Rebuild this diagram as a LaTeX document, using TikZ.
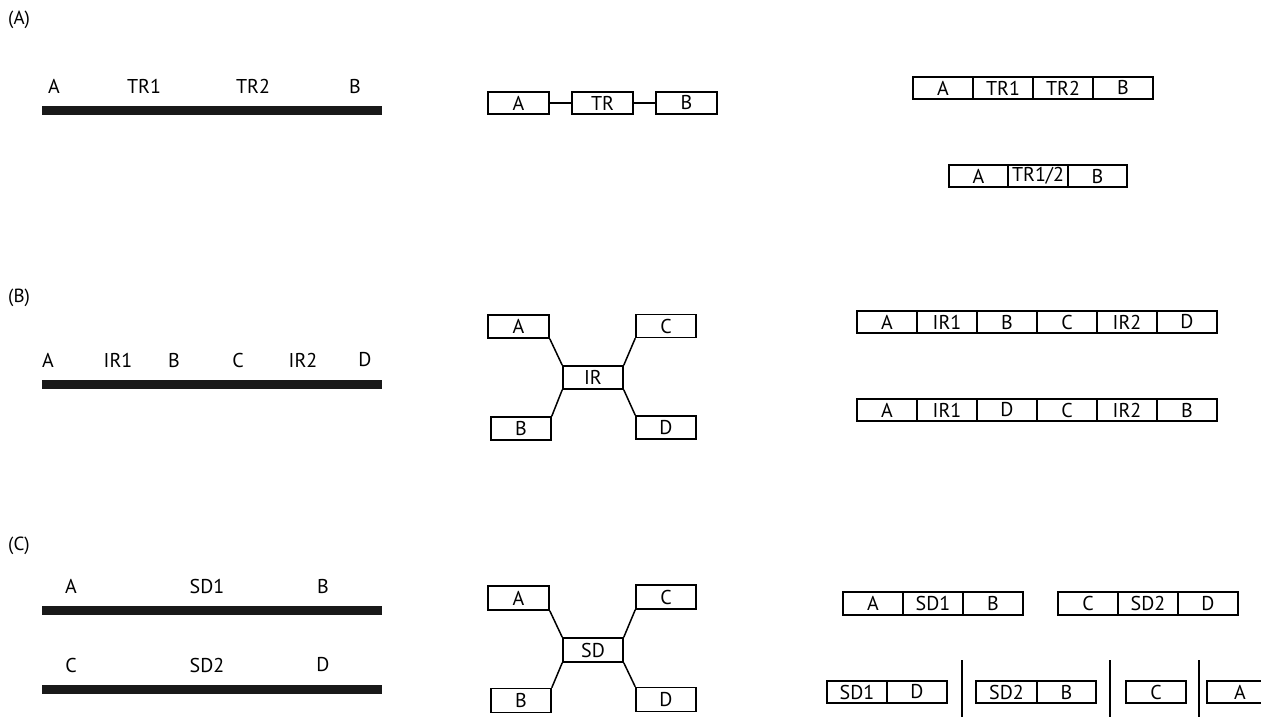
\documentclass[tikz,border=0pt]{standalone}
\usepackage{fontspec}
\setmainfont{PT Sans}
\begin{document}
\begin{tikzpicture}[x=1pt,y=-1pt,
  cell/.style={draw,line width=1.5pt,minimum width=60pt,minimum height=22pt,inner sep=0pt,font=\fontsize{20}{20}\selectfont},
  lab/.style={font=\fontsize{20}{20}\selectfont,inner sep=0pt},
  plab/.style={font=\fontsize{19}{19}\selectfont,inner sep=0pt,anchor=west},
  bar/.style={fill=black!90},
  conn/.style={line width=1.5pt},
  sep/.style={line width=1.9pt}]
\useasboundingbox (0,0) rectangle (1261,717);
% ---------------- (A)
\node[plab] (pA) at (8,20) {(A)};
\fill[bar] (42,106) rectangle (382,115);
\node[lab] (a1) at (54,86) {A};
\node[lab] (a2) at (144,86) {TR1};
\node[lab] (a3) at (253,86) {TR2};
\node[lab] (a4) at (355,86) {B};
\node[cell,minimum width=61pt] (mA) at (518.5,103) {A};
\node[cell,minimum width=61pt] (mTR) at (602.5,103) {TR};
\node[cell,minimum width=61pt] (mB) at (686.5,103) {B};
\draw[conn] (mA) -- (mTR);
\draw[conn] (mTR) -- (mB);
\node[cell] (r1) at (943,88) {A};
\node[cell] (r2) at (1003,88) {TR1};
\node[cell] (r3) at (1063,88) {TR2};
\node[cell] (r4) at (1123,88) {B};
\node[cell,minimum width=59pt] (s1) at (978.5,176) {A};
\node[cell] (s2) at (1038,176) {TR1/2};
\node[cell,minimum width=59pt] (s3) at (1097.5,176) {B};
% ---------------- (B)
\node[plab] (pB) at (8,298) {(B)};
\fill[bar] (42,380) rectangle (382,389);
\node[lab] (b1) at (48,360) {A};
\node[lab] (b2) at (118,360) {IR1};
\node[lab] (b3) at (174,360) {B};
\node[lab] (b4) at (238,360) {C};
\node[lab] (b5) at (303,360) {IR2};
\node[lab] (b6) at (365,360) {D};
\node[cell,minimum width=61pt,minimum height=23pt] (nA) at (518.5,326.5) {A};
\node[cell,minimum height=23pt] (nC) at (666,326) {C};
\node[cell,minimum height=23pt] (nIR) at (593,377.5) {IR};
\node[cell,minimum height=23pt] (nB) at (521,428.5) {B};
\node[cell,minimum height=23pt] (nD) at (666,427.5) {D};
\draw[conn] (nA.south east) -- (nIR.north west);
\draw[conn] (nC.south west) -- (nIR.north east);
\draw[conn] (nB.north east) -- (nIR.south west);
\draw[conn] (nD.north west) -- (nIR.south east);
\node[cell] (t1) at (887,322) {A};
\node[cell] (t2) at (947,322) {IR1};
\node[cell] (t3) at (1007,322) {B};
\node[cell] (t4) at (1067,322) {C};
\node[cell] (t5) at (1127,322) {IR2};
\node[cell] (t6) at (1187,322) {D};
\node[cell] (u1) at (887,410) {A};
\node[cell] (u2) at (947,410) {IR1};
\node[cell] (u3) at (1007,410) {D};
\node[cell] (u4) at (1067,410) {C};
\node[cell] (u5) at (1127,410) {IR2};
\node[cell] (u6) at (1187,410) {B};
% ---------------- (C)
\node[plab] (pC) at (8,546) {(C)};
\node[lab] (c1) at (71,586) {A};
\node[lab] (c2) at (207,586) {SD1};
\node[lab] (c3) at (323,586) {B};
\fill[bar] (42,606) rectangle (382,615);
\node[lab] (c4) at (71,665) {C};
\node[lab] (c5) at (207,665) {SD2};
\node[lab] (c6) at (323,665) {D};
\fill[bar] (42,685) rectangle (382,694);
\node[cell,minimum width=61pt,minimum height=24pt] (oA) at (518.5,598) {A};
\node[cell,minimum height=24pt] (oC) at (666,597) {C};
\node[cell,minimum height=24pt] (oSD) at (593,650) {SD};
\node[cell,minimum height=24pt] (oB) at (521,700.5) {B};
\node[cell,minimum height=24pt] (oD) at (666,699.5) {D};
\draw[conn] (oA.south east) -- (oSD.north west);
\draw[conn] (oC.south west) -- (oSD.north east);
\draw[conn] (oB.north east) -- (oSD.south west);
\draw[conn] (oD.north west) -- (oSD.south east);
\node[cell,minimum height=23pt] (v1) at (873,603.5) {A};
\node[cell,minimum height=23pt] (v2) at (933,603.5) {SD1};
\node[cell,minimum height=23pt] (v3) at (993,603.5) {B};
\node[cell,minimum height=23pt] (v4) at (1088,603.5) {C};
\node[cell,minimum height=23pt] (v5) at (1148,603.5) {SD2};
\node[cell,minimum height=23pt] (v6) at (1208,603.5) {D};
\node[cell] (w1) at (857,692) {SD1};
\node[cell] (w2) at (917,692) {D};
\coordinate (l1t) at (962,660); \coordinate (l1b) at (962,717);
\draw[sep] (l1t) -- (l1b);
\node[cell,minimum width=61pt] (w3) at (1006.5,692) {SD2};
\node[cell,minimum width=59pt] (w4) at (1066.5,692) {B};
\coordinate (l2t) at (1110,660); \coordinate (l2b) at (1110,717);
\draw[sep] (l2t) -- (l2b);
\node[cell] (w5) at (1156,692) {C};
\coordinate (l3t) at (1199,660); \coordinate (l3b) at (1199,717);
\draw[sep] (l3t) -- (l3b);
\node[font=\fontsize{20}{20}\selectfont,inner sep=0pt] (w6) at (1240,692) {A};
\coordinate (w6a) at (1261,681); \coordinate (w6b) at (1207,681);
\coordinate (w6c) at (1207,703); \coordinate (w6d) at (1261,703);
\draw[line width=1.5pt] (w6a) -- (w6b) -- (w6c) -- (w6d);
\end{tikzpicture}
\end{document}
